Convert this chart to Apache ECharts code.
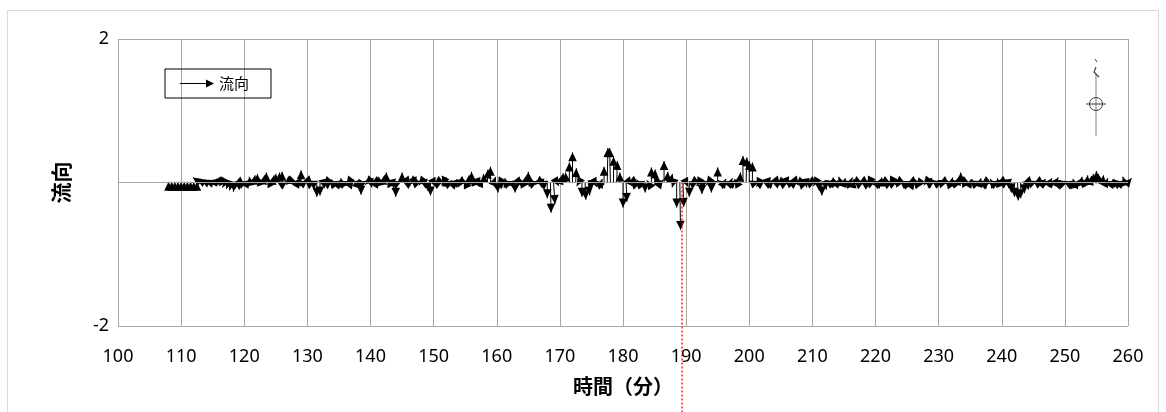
<!DOCTYPE html>
<html lang="ja">
<head>
<meta charset="utf-8">
<title>流向</title>
<script src="https://cdn.jsdelivr.net/npm/echarts@6/dist/echarts.min.js"></script>
<style>
  html, body { margin: 0; padding: 0; background: #fff; }
  #chart { width: 1166px; height: 412px; }
</style>
</head>
<body>
<div id="chart"></div>
<script>
// sample times: every 0.5 min from 108 to 260
var START = 108, STEP = 0.5;

// north (vertical) component of the flow, one row per 10 minutes
var northward = [
  0.01, 0.01, 0.01, 0.01,
  0.01, 0.01, 0.01, 0.01, 0.01, 0.01, 0.07, 0.05, 0.035, 0.02, 0.0, -0.015, -0.03, -0.05, -0.07, -0.09, -0.11, -0.13, -0.1, -0.04,
  0.02, 0.05, 0.08, 0.1, 0.12, 0.08, 0.1, 0.14, 0.06, 0.1, 0.12, 0.14, 0.15, 0.02, -0.03, -0.02, 0.0, 0.05, 0.17, 0.04,
  0.03, -0.03, -0.1, -0.2, -0.18, -0.08, -0.04, 0.03, 0.05, 0.02, 0.04, 0.06, 0.02, -0.04, 0.04, 0.01, 0.05, -0.17, 0.02, -0.03,
  -0.07, -0.02, 0.05, 0.08, 0.1, 0.14, 0.06, -0.08, -0.2, 0.02, 0.14, 0.02, -0.04, -0.03, -0.05, 0.02, -0.04, -0.08, -0.12, -0.18,
  -0.06, -0.03, 0.02, -0.04, 0.07, 0.03, 0.01, 0.03, -0.02, 0.01, 0.04, 0.1, 0.15, 0.08, -0.06, 0.06, 0.12, 0.18, 0.22, 0.08,
  -0.14, -0.05, 0.03, 0.06, 0.02, -0.1, -0.14, -0.05, 0.05, 0.1, 0.15, 0.08, 0.02, -0.03, -0.08, -0.1, -0.22, -0.42, -0.3, -0.05,
  0.1, 0.13, 0.14, 0.28, 0.42, 0.2, -0.05, -0.2, -0.24, -0.18, -0.1, -0.06, 0.03, 0.05, 0.22, 0.48, 0.48, 0.36, 0.3, 0.14,
  -0.35, -0.27, -0.05, 0.03, -0.03, 0.04, 0.02, -0.14, 0.03, 0.21, 0.18, 0.1, 0.04, 0.3, 0.15, 0.12, -0.07, -0.35, -0.66, -0.34,
  -0.06, -0.2, -0.03, 0.02, -0.05, -0.16, 0.02, -0.04, -0.14, 0.02, 0.21, 0.03, 0.05, 0.02, 0.06, 0.04, 0.05, 0.14, 0.37, 0.35,
  0.3, 0.28, 0.02, -0.06, 0.03, 0.02, -0.06, 0.04, 0.02, -0.04, 0.03, -0.02, -0.05, 0.02, 0.01, -0.04, 0.03, -0.02, -0.07, -0.02,
  0.02, -0.05, -0.12, -0.18, -0.1, 0.03, 0.06, 0.07, 0.05, 0.08, 0.06, 0.04, 0.07, 0.05, 0.03, -0.02, 0.02, -0.03, -0.04, 0.02,
  0.03, 0.05, 0.07, 0.03, -0.02, -0.04, 0.02, -0.03, 0.01, 0.03, 0.02, -0.02, 0.03, 0.05, 0.02, -0.01, -0.04, -0.07, 0.02, 0.04,
  0.03, -0.02, 0.01, 0.04, 0.07, 0.05, 0.09, 0.14, 0.06, -0.02, 0.05, 0.04, 0.02, 0.06, 0.03, 0.04, -0.02, 0.05, 0.03, 0.06,
  0.03, -0.03, -0.08, -0.14, -0.2, -0.25, -0.22, -0.15, -0.1, -0.04, 0.02, -0.02, 0.03, 0.05, 0.02, 0.06, 0.04, 0.07, 0.03, 0.02,
  0.01, 0.02, 0.03, 0.05, 0.04, 0.08, 0.06, 0.1, 0.09, 0.12, 0.16, 0.12, 0.1, 0.06, 0.02, 0.05, 0.03, 0.01, 0.04, 0.08, 0.06
];

// east (horizontal) component, same rows
var eastward = [
  0, 0, 0, 0,
  0, 0, 0, 0, 0, 0, -0.1, -0.09, -0.08, -0.07, -0.06, -0.05, -0.05, -0.04, -0.04, -0.03, -0.03, -0.02, 0.02, 0.05,
  0.04, 0.03, -0.02, 0.02, 0.01, -0.03, 0.02, 0, -0.03, 0.02, 0, 0.01, 0, 0.03, -0.03, 0.04, -0.04, 0.03, 0, 0.05,
  -0.04, 0.03, 0, 0, 0, 0.02, -0.04, 0.04, -0.03, 0.04, 0.03, -0.02, 0.04, -0.03, 0.03, -0.04, 0.02, 0, 0.04, -0.03,
  0.02, -0.04, 0.03, -0.02, 0.02, 0, -0.03, 0.02, 0, 0.04, 0, -0.04, 0.03, -0.03, 0.02, 0.05, -0.03, 0.02, 0.01, 0,
  0.03, -0.04, 0.04, -0.02, 0, 0.04, -0.05, 0.03, -0.04, 0.05, -0.02, 0.01, 0, -0.03, 0.02, 0.03, -0.01, 0.01, 0, 0.03,
  0.02, -0.03, 0.04, -0.02, 0.04, 0.02, -0.01, 0.04, -0.03, 0.02, 0, -0.03, 0.04, -0.04, 0.02, 0, 0, 0.01, 0.02, 0.03,
  0.03, 0, -0.01, 0, 0, 0.01, -0.03, 0, 0.01, 0.02, -0.02, 0.03, -0.03, 0.02, 0, 0.01, -0.01, 0, 0.01, 0,
  0, 0.01, 0.04, -0.03, 0.04, -0.03, 0.04, 0, -0.02, 0, 0.01, -0.04, 0.03, 0, 0.01, 0.03, -0.02, 0, 0.01, 0.01,
  0.03, 0, -0.04, 0.04, -0.03, 0, 0.04, -0.03, 0, 0.04, 0, -0.04, 0.03, -0.04, 0.03, 0.04, -0.03, 0.01, 0, 0.01,
  0, 0, 0.05, -0.03, 0.04, -0.04, 0.02, 0.04, -0.05, 0.03, -0.04, 0.05, 0.02, -0.04, 0.04, 0.03, -0.03, 0.05, 0.01, -0.04,
  0.05, -0.03, 0.01, 0, 0.02, -0.05, 0.03, -0.02, 0.04, -0.03, 0.02, -0.04, 0.03, 0.01, -0.04, 0.04, -0.03, 0.04, -0.02, 0.05,
  -0.04, 0.03, 0, -0.04, 0.04, -0.02, 0.04, -0.04, 0.05, -0.03, 0.04, -0.04, 0.02, -0.03, 0.04, 0.05, -0.03, 0.02, 0.04, -0.05,
  0.05, -0.04, 0.04, -0.03, 0.02, -0.04, 0.03, 0, -0.04, 0.04, 0.03, -0.04, 0.05, 0.02, -0.04, 0.03, 0.04, -0.03, 0.04, -0.02,
  -0.05, 0.04, 0.01, 0, 0, 0.01, 0, 0.01, 0.02, 0.04, 0.05, -0.04, 0.05, 0.04, 0.05, 0.04, 0.05, 0.04, -0.03, 0.04,
  0.04, -0.03, 0.04, -0.02, 0.03, 0.02, -0.03, 0.01, 0.02, 0, 0, -0.02, 0.01, 0.03, -0.04, 0.03, -0.04, 0.05, 0.04, -0.03, 0.05
];

var redLineTime = 189.35;

var vectors = northward.map(function (v, i) {
  return [START + i * STEP, v, eastward[i]];
});

// stick with a triangular head, drawn from (t, 0) to the tip
function renderArrow(params, api) {
  var t = api.value(0), v = api.value(1), u = api.value(2);
  var base = api.coord([t, 0]);
  var tip = api.coord([t, v]);
  var unit = api.size([0, 1])[1];
  tip[0] += u * unit;
  var dx = tip[0] - base[0], dy = tip[1] - base[1];
  var len = Math.sqrt(dx * dx + dy * dy);
  if (len < 0.01) { dx = 0; dy = -1; len = 1; }
  var ux = dx / len, uy = dy / len;
  var L = 9, W = 4.3;
  var bx = tip[0] - ux * L, by = tip[1] - uy * L;
  return {
    type: 'group',
    children: [
      { type: 'line', shape: { x1: base[0], y1: base[1], x2: tip[0], y2: tip[1] },
        style: { stroke: '#000', lineWidth: 1 } },
      { type: 'polygon', shape: { points: [tip, [bx - uy * W, by + ux * W], [bx + uy * W, by - ux * W]] },
        style: { fill: '#000' } }
    ]
  };
}

function renderRedLine(params, api) {
  var p = api.coord([api.value(0), 0]);
  return {
    type: 'line',
    shape: { x1: p[0], y1: p[1], x2: p[0], y2: api.getHeight() },
    style: { stroke: '#ff0000', lineWidth: 1.3, lineDash: [2, 2] }
  };
}

var chart = echarts.init(document.getElementById('chart'));
var option = {
  backgroundColor: '#fff',
  animation: false,
  textStyle: { fontFamily: '"Noto Sans", "Noto Sans CJK JP", sans-serif' },
  grid: { left: 118, right: 38, top: 39, bottom: 86 },
  legend: {
    data: ['流向'],
    left: 165, top: 69,
    orient: 'horizontal',
    borderColor: '#000', borderWidth: 1,
    padding: [7, 22, 7, 15],
    itemWidth: 34, itemHeight: 8,
    icon: 'path://M0,3.5 L26,3.5 L26,0 L34,4 L26,8 L26,4.5 L0,4.5 Z',
    textStyle: { fontSize: 15, color: '#000', fontFamily: '"Noto Sans CJK JP", sans-serif' }
  },
  xAxis: {
    type: 'value',
    min: 100, max: 260, interval: 10,
    name: '時間（分）',
    nameLocation: 'middle',
    nameGap: 50,
    nameTextStyle: { fontSize: 20, fontWeight: 'bold', color: '#000', fontFamily: '"Noto Sans CJK JP", sans-serif' },
    axisLine: { show: false, onZero: false },
    axisTick: { show: false },
    axisLabel: { fontSize: 18, color: '#000', margin: 22 },
    splitLine: { show: true, lineStyle: { color: '#a6a6a6', width: 1 } }
  },
  yAxis: {
    type: 'value',
    min: -2, max: 2, interval: 4,
    name: '流向',
    nameLocation: 'middle',
    nameGap: 46,
    nameRotate: 90,
    nameTextStyle: { fontSize: 21, fontWeight: 'bold', color: '#000', fontFamily: '"Noto Sans CJK JP", sans-serif' },
    axisLine: { show: false },
    axisTick: { show: false },
    axisLabel: { fontSize: 18, color: '#000', margin: 9 },
    splitLine: { show: true, lineStyle: { color: '#a6a6a6', width: 1 } }
  },
  graphic: [
    { type: 'rect', shape: { x: 7.5, y: 10.5, width: 1151, height: 420 },
      style: { fill: 'none', stroke: '#d9d9d9', lineWidth: 1 }, z: -1 },
    // small marker at the top right
    { type: 'line', shape: { x1: 1096, y1: 74, x2: 1096, y2: 136 },
      style: { stroke: '#7f7f7f', lineWidth: 1 } },
    { type: 'circle', shape: { cx: 1096, cy: 104, r: 6.5 },
      style: { fill: 'none', stroke: '#404040', lineWidth: 1 } },
    { type: 'line', shape: { x1: 1086, y1: 104, x2: 1106, y2: 104 },
      style: { stroke: '#404040', lineWidth: 1 } },
    { type: 'polyline', shape: { points: [[1099, 77], [1094, 72], [1096, 67]] },
      style: { stroke: '#404040', lineWidth: 1.2, fill: 'none' } },
    { type: 'line', shape: { x1: 1095, y1: 59, x2: 1097, y2: 62 },
      style: { stroke: '#404040', lineWidth: 1 } }
  ],
  series: [
    {
      name: '流向',
      type: 'custom',
      renderItem: renderArrow,
      encode: { x: 0, y: 1 },
      itemStyle: { color: '#000' },
      data: vectors,
      z: 3,
      markLine: {
        silent: true,
        symbol: 'none',
        label: { show: false },
        lineStyle: { color: '#a6a6a6', type: 'solid', width: 1 },
        data: [{ yAxis: 0 }]
      }
    },
    {
      name: 'marker',
      type: 'custom',
      renderItem: renderRedLine,
      encode: { x: 0 },
      data: [[redLineTime]],
      z: 4
    }
  ]
};
chart.setOption(option);
</script>
</body>
</html>
